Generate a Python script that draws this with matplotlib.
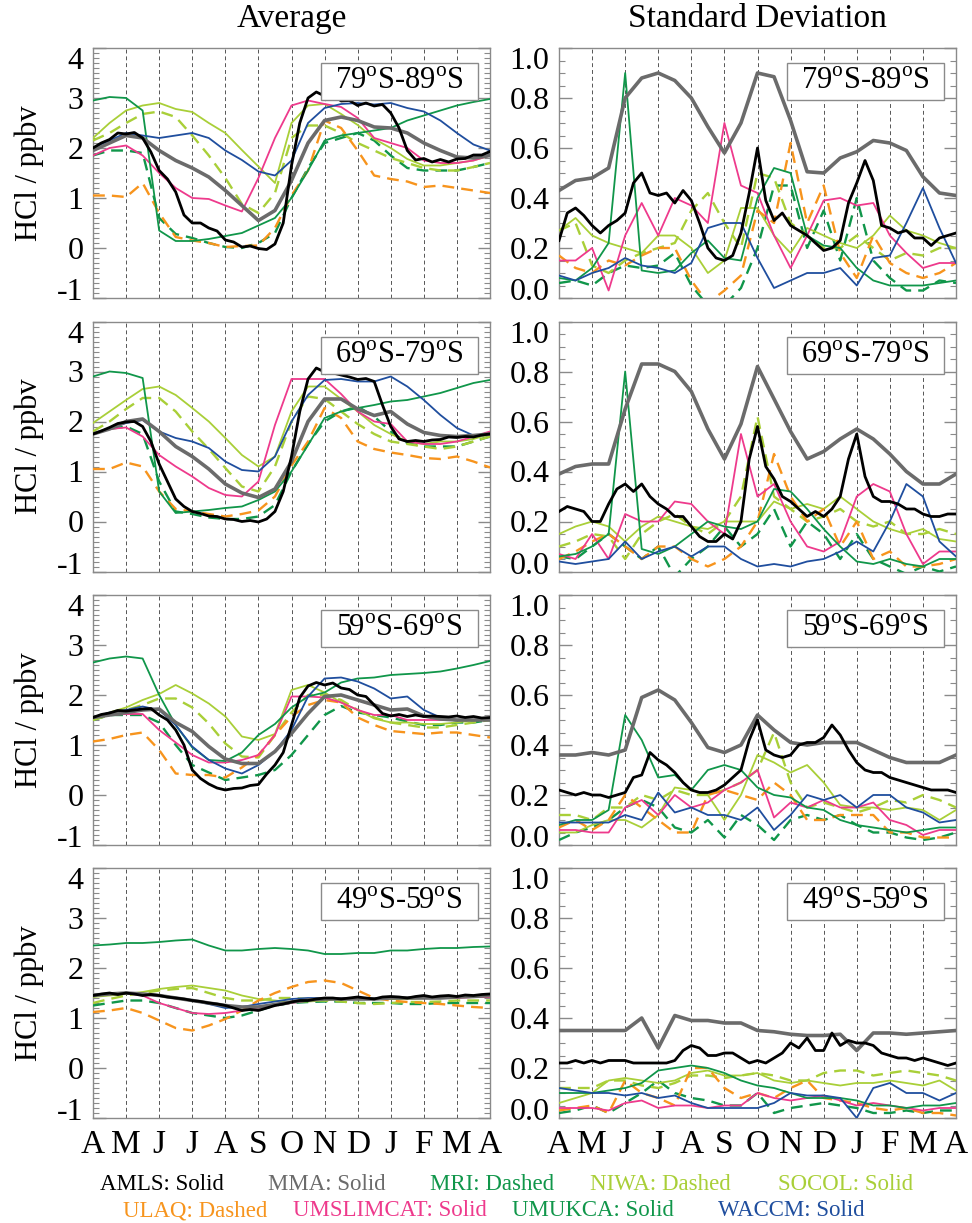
import numpy as np
import matplotlib
matplotlib.use("Agg")
import matplotlib.pyplot as plt
from matplotlib.patches import Rectangle
from matplotlib.ticker import MultipleLocator, FixedLocator, FixedFormatter
import matplotlib.transforms as mtransforms

plt.rcParams['font.family'] = ['Liberation Serif', 'DejaVu Serif']
plt.rcParams['mathtext.fontset'] = 'custom'
plt.rcParams['mathtext.rm'] = 'Liberation Serif'
plt.rcParams['axes.unicode_minus'] = False

# ---------------- axes / labels ----------------
MONTH_LABELS = ['A', 'M', 'J', 'J', 'A', 'S', 'O', 'N', 'D', 'J', 'F', 'M', 'A']
REGION_LABELS = ['79$^{\\rm o}$S-89$^{\\rm o}$S', '69$^{\\rm o}$S-79$^{\\rm o}$S',
                 '59$^{\\rm o}$S-69$^{\\rm o}$S', '49$^{\\rm o}$S-59$^{\\rm o}$S']
AVG_TICKS = [-1, 0, 1, 2, 3, 4]
SD_TICKS = [0.0, 0.2, 0.4, 0.6, 0.8, 1.0]

# x positions (months after 1 April): models semi-monthly, AMLS quarter-monthly
X_MODEL = np.arange(25) * 0.5
X_AMLS = np.arange(49) * 0.25

# ---------------- 79S-89S : average ----------------
A1_AMLS = [2.0, 2.1, 2.17, 2.3, 2.28, 2.31, 2.2, 1.92, 1.55, 1.38, 1.12, 0.66, 0.5, 0.5, 0.4, 0.34,
           0.16, 0.12, 0.02, 0.04, -0.01, -0.03, 0.08, 0.5, 1.65, 2.5, 3.0, 3.12, 3.04, 3.07, 2.94, 2.95,
           2.85, 2.9, 2.84, 2.87, 2.7, 2.4, 1.95, 1.76, 1.79, 1.72, 1.77, 1.72, 1.78, 1.79, 1.86, 1.86, 1.93]
A1_MMA = [1.95, 2.1, 2.25, 2.2, 1.95, 1.75, 1.6, 1.42, 1.15, 0.85, 0.55, 0.75, 1.35, 2.1, 2.55, 2.62,
          2.55, 2.42, 2.4, 2.3, 2.1, 1.95, 1.82, 1.8, 1.85]
A1_MRI = [1.85, 1.95, 1.95, 1.9, 0.6, 0.28, 0.2, 0.1, 0.02, 0.0, 0.1, 0.3, 1.0, 1.6, 2.1, 2.2,
          2.3, 2.15, 1.85, 1.6, 1.55, 1.55, 1.55, 1.62, 1.7]
A1_NIWA = [2.15, 2.3, 2.5, 2.68, 2.73, 2.62, 2.25, 1.85, 1.4, 0.88, 0.7, 1.1, 2.2, 2.45, 2.45, 2.3,
           2.1, 1.95, 1.8, 1.7, 1.6, 1.55, 1.55, 1.62, 1.7]
A1_SOCOL = [2.2, 2.5, 2.75, 2.85, 2.9, 2.78, 2.72, 2.5, 2.3, 1.96, 1.63, 1.3, 2.5, 2.85, 2.88, 2.68,
            2.46, 2.18, 2.0, 1.78, 1.65, 1.65, 1.7, 1.75, 1.85]
A1_ULAQ = [1.05, 1.05, 1.02, 1.3, 0.7, 0.22, 0.15, 0.1, 0.02, 0.04, 0.05, 0.4, 1.05, 1.55, 2.55, 2.4,
           1.95, 1.45, 1.38, 1.33, 1.22, 1.25, 1.2, 1.15, 1.1]
A1_UMSLIMCAT = [1.85, 2.0, 2.05, 1.85, 1.5, 1.2, 1.0, 0.98, 0.85, 0.73, 1.4, 2.2, 2.85, 2.95, 2.88, 2.82,
                2.6, 2.2, 2.1, 2.0, 1.75, 1.7, 1.7, 1.75, 1.85]
A1_UMUKCA = [2.95, 3.02, 3.0, 2.75, 0.35, 0.14, 0.14, 0.18, 0.24, 0.3, 0.45, 0.6, 1.0, 1.55, 2.15, 2.25,
             2.3, 2.35, 2.4, 2.55, 2.65, 2.75, 2.85, 2.92, 2.98]
A1_WACCM = [2.0, 2.15, 2.3, 2.25, 2.2, 2.25, 2.3, 2.2, 1.95, 1.76, 1.53, 1.45, 1.75, 2.5, 2.8, 2.88,
            2.9, 2.87, 2.9, 2.8, 2.73, 2.55, 2.3, 2.07, 1.95]

# ---------------- 79S-89S : standard deviation ----------------
S1_AMLS = [0.23, 0.34, 0.36, 0.33, 0.29, 0.26, 0.29, 0.31, 0.34, 0.46, 0.5, 0.42, 0.41, 0.42, 0.38, 0.43,
           0.39, 0.3, 0.2, 0.16, 0.15, 0.17, 0.26, 0.42, 0.6, 0.39, 0.31, 0.34, 0.29, 0.27, 0.25, 0.22,
           0.19, 0.2, 0.23, 0.38, 0.46, 0.55, 0.47, 0.29, 0.28, 0.26, 0.27, 0.24, 0.24, 0.21, 0.24, 0.25, 0.26]
S1_MMA = [0.43, 0.47, 0.48, 0.52, 0.8, 0.88, 0.9, 0.87, 0.8, 0.685, 0.58, 0.7, 0.9, 0.885, 0.71, 0.505,
          0.5, 0.56, 0.585, 0.63, 0.62, 0.59, 0.485, 0.42, 0.41]
S1_MRI = [0.06, 0.07, 0.05, 0.1, 0.13, 0.12, 0.13, 0.18, 0.05, -0.03, -0.03, 0.04, 0.2, 0.45, 0.45, 0.2,
          0.35, 0.15, 0.4, 0.15, 0.08, 0.03, 0.03, 0.07, 0.06]
S1_NIWA = [0.27, 0.3, 0.13, 0.1, 0.15, 0.18, 0.2, 0.22, 0.35, 0.42, 0.3, 0.2, 0.5, 0.48, 0.3, 0.25,
           0.2, 0.2, 0.25, 0.2, 0.15, 0.18, 0.17, 0.2, 0.2]
S1_SOCOL = [0.27, 0.32, 0.25, 0.22, 0.2, 0.18, 0.25, 0.25, 0.2, 0.1, 0.15, 0.36, 0.36, 0.25, 0.18, 0.28,
            0.25, 0.22, 0.2, 0.25, 0.33, 0.27, 0.25, 0.22, 0.2]
S1_ULAQ = [0.17, 0.12, 0.1, 0.15, 0.13, 0.17, 0.2, 0.2, 0.07, -0.02, 0.03, 0.09, 0.35, 0.3, 0.62, 0.3,
           0.45, 0.18, 0.08, 0.25, 0.14, 0.1, 0.08, 0.1, 0.14]
S1_UMSLIMCAT = [0.15, 0.15, 0.2, 0.03, 0.25, 0.38, 0.25, 0.4, 0.37, 0.3, 0.7, 0.45, 0.42, 0.25, 0.12, 0.25,
                0.39, 0.4, 0.37, 0.38, 0.25, 0.18, 0.12, 0.14, 0.14]
S1_UMUKCA = [0.08, 0.07, 0.12, 0.22, 0.9, 0.11, 0.1, 0.11, 0.18, 0.23, 0.16, 0.15, 0.4, 0.52, 0.5, 0.25,
             0.21, 0.2, 0.12, 0.07, 0.05, 0.05, 0.05, 0.06, 0.07]
S1_WACCM = [0.09, 0.07, 0.1, 0.12, 0.16, 0.13, 0.12, 0.1, 0.14, 0.28, 0.3, 0.3, 0.16, 0.04, 0.07, 0.1,
            0.1, 0.12, 0.05, 0.16, 0.17, 0.3, 0.44, 0.28, 0.14]

# ---------------- 69S-79S : average ----------------
A2_AMLS = [1.75, 1.81, 1.88, 1.96, 1.99, 2.0, 1.9, 1.6, 1.15, 0.8, 0.45, 0.3, 0.2, 0.16, 0.11, 0.1,
           0.05, 0.04, 0.0, 0.02, -0.01, 0.05, 0.2, 0.6, 1.3, 2.2, 2.85, 3.07, 2.99, 2.97, 2.93, 2.89,
           2.84, 2.86, 2.8, 2.33, 1.9, 1.65, 1.6, 1.62, 1.6, 1.63, 1.64, 1.69, 1.68, 1.7, 1.69, 1.73, 1.75]
A2_MMA = [1.75, 1.85, 2.0, 2.05, 1.8, 1.5, 1.3, 1.05, 0.75, 0.57, 0.48, 0.65, 1.2, 2.0, 2.45, 2.45,
          2.25, 2.12, 2.2, 1.95, 1.78, 1.72, 1.7, 1.72, 1.75]
A2_MRI = [1.75, 1.85, 1.9, 1.75, 0.8, 0.2, 0.15, 0.08, 0.05, 0.05, 0.1, 0.33, 1.0, 1.55, 2.0, 2.2,
          2.3, 2.1, 1.8, 1.57, 1.5, 1.5, 1.5, 1.6, 1.7]
A2_NIWA = [1.8, 2.0, 2.25, 2.47, 2.47, 2.2, 1.8, 1.45, 1.07, 0.7, 0.6, 1.1, 2.0, 2.5, 2.45, 2.2,
           1.95, 1.75, 1.6, 1.55, 1.5, 1.45, 1.5, 1.6, 1.7]
A2_SOCOL = [1.97, 2.2, 2.43, 2.65, 2.7, 2.53, 2.27, 2.0, 1.67, 1.33, 1.1, 1.3, 2.2, 2.7, 2.7, 2.45,
            2.2, 1.93, 1.75, 1.6, 1.55, 1.6, 1.6, 1.65, 1.75]
A2_ULAQ = [1.05, 1.05, 1.18, 1.1, 0.6, 0.25, 0.2, 0.15, 0.1, 0.15, 0.22, 0.5, 1.12, 1.6, 2.27, 2.07,
           1.6, 1.45, 1.38, 1.33, 1.27, 1.25, 1.3, 1.2, 1.08]
A2_UMSLIMCAT = [1.75, 1.85, 1.88, 1.7, 1.33, 1.1, 0.9, 0.67, 0.53, 0.5, 0.8, 1.93, 2.85, 2.85, 2.85, 2.55,
                2.2, 2.0, 1.95, 1.6, 1.55, 1.55, 1.6, 1.7, 1.8]
A2_UMUKCA = [2.9, 3.0, 2.97, 2.87, 0.6, 0.17, 0.2, 0.23, 0.27, 0.3, 0.43, 0.6, 1.0, 1.53, 2.07, 2.2,
             2.27, 2.33, 2.4, 2.43, 2.5, 2.57, 2.67, 2.77, 2.83]
A2_WACCM = [1.75, 1.85, 1.97, 2.03, 1.8, 1.67, 1.6, 1.47, 1.2, 1.03, 1.0, 1.3, 2.0, 2.53, 2.83, 2.85,
            2.8, 2.8, 2.9, 2.7, 2.43, 2.13, 1.87, 1.72, 1.75]

# ---------------- 69S-79S : standard deviation ----------------
S2_AMLS = [0.24, 0.26, 0.25, 0.24, 0.2, 0.2, 0.27, 0.33, 0.35, 0.32, 0.35, 0.3, 0.27, 0.25, 0.22, 0.22,
           0.18, 0.14, 0.12, 0.12, 0.15, 0.13, 0.2, 0.45, 0.58, 0.42, 0.37, 0.3, 0.28, 0.25, 0.22, 0.24,
           0.22, 0.25, 0.3, 0.45, 0.55, 0.38, 0.3, 0.28, 0.28, 0.27, 0.25, 0.25, 0.23, 0.22, 0.22, 0.23, 0.23]
S2_MMA = [0.39, 0.42, 0.43, 0.43, 0.65, 0.83, 0.83, 0.8, 0.72, 0.57, 0.45, 0.59, 0.82, 0.69, 0.56, 0.45,
          0.48, 0.53, 0.57, 0.53, 0.47, 0.4, 0.35, 0.35, 0.39]
S2_MRI = [0.06, 0.05, 0.1, 0.15, 0.1, 0.05, 0.1, -0.02, 0.05, 0.1, 0.18, 0.1, 0.15, 0.25, 0.1, 0.2,
          0.15, 0.05, 0.15, 0.05, 0.02, -0.01, 0.02, 0.0, 0.02]
S2_NIWA = [0.1, 0.12, 0.15, 0.14, 0.05, 0.15, 0.2, 0.23, 0.18, 0.15, 0.2, 0.3, 0.62, 0.3, 0.25, 0.2,
           0.22, 0.25, 0.2, 0.18, 0.2, 0.15, 0.15, 0.17, 0.15]
S2_SOCOL = [0.15, 0.18, 0.2, 0.18, 0.12, 0.18, 0.22, 0.2, 0.18, 0.17, 0.2, 0.2, 0.2, 0.28, 0.25, 0.27,
            0.25, 0.3, 0.25, 0.2, 0.17, 0.15, 0.17, 0.13, 0.12]
S2_ULAQ = [0.05, 0.08, 0.12, 0.15, 0.1, 0.05, 0.1, 0.1, 0.05, 0.02, 0.05, 0.1, 0.2, 0.47, 0.3, 0.2,
           0.25, 0.1, 0.2, 0.05, 0.08, 0.02, 0.02, 0.03, 0.05]
S2_UMSLIMCAT = [0.07, 0.05, 0.15, 0.05, 0.23, 0.2, 0.2, 0.28, 0.27, 0.2, 0.15, 0.55, 0.3, 0.35, 0.2, 0.1,
                0.08, 0.12, 0.3, 0.35, 0.32, 0.15, 0.03, 0.08, 0.08]
S2_UMUKCA = [0.06, 0.07, 0.1, 0.15, 0.8, 0.09, 0.07, 0.1, 0.15, 0.2, 0.18, 0.17, 0.2, 0.33, 0.32, 0.25,
             0.17, 0.1, 0.04, 0.03, 0.05, 0.03, 0.02, 0.05, 0.05]
S2_WACCM = [0.04, 0.03, 0.04, 0.05, 0.12, 0.05, 0.08, 0.1, 0.06, 0.1, 0.1, 0.05, 0.02, 0.03, 0.02, 0.04,
            0.05, 0.08, 0.12, 0.08, 0.2, 0.35, 0.3, 0.12, 0.06]

# ---------------- 59S-69S : average ----------------
A3_AMLS = [1.55, 1.61, 1.64, 1.69, 1.68, 1.7, 1.72, 1.73, 1.6, 1.5, 1.3, 1.0, 0.5, 0.33, 0.22, 0.14,
           0.1, 0.13, 0.14, 0.19, 0.21, 0.42, 0.6, 0.85, 1.4, 1.95, 2.18, 2.25, 2.2, 2.24, 2.14, 2.11,
           2.0, 1.97, 1.8, 1.63, 1.58, 1.61, 1.57, 1.6, 1.57, 1.58, 1.57, 1.56, 1.58, 1.55, 1.57, 1.54, 1.55]
A3_MMA = [1.55, 1.6, 1.65, 1.7, 1.72, 1.45, 1.27, 0.97, 0.72, 0.63, 0.63, 0.87, 1.23, 1.63, 1.97, 2.0,
          1.9, 1.8, 1.7, 1.72, 1.58, 1.52, 1.5, 1.5, 1.5]
A3_MRI = [1.5, 1.6, 1.6, 1.6, 1.45, 1.0, 0.6, 0.45, 0.3, 0.35, 0.4, 0.5, 0.8, 1.2, 1.6, 1.78,
          1.65, 1.6, 1.55, 1.47, 1.4, 1.4, 1.45, 1.45, 1.5]
A3_NIWA = [1.5, 1.6, 1.7, 1.8, 1.93, 1.93, 1.75, 1.43, 1.03, 0.77, 0.75, 1.2, 1.65, 2.0, 2.0, 1.9,
           1.7, 1.55, 1.45, 1.4, 1.35, 1.35, 1.4, 1.45, 1.5]
A3_SOCOL = [1.5, 1.65, 1.75, 1.9, 2.02, 2.2, 2.03, 1.83, 1.57, 1.17, 1.1, 1.22, 2.1, 2.2, 2.05, 1.85,
            1.7, 1.53, 1.45, 1.45, 1.42, 1.42, 1.45, 1.5, 1.5]
A3_ULAQ = [1.07, 1.12, 1.2, 1.25, 0.9, 0.43, 0.4, 0.4, 0.35, 0.55, 0.8, 1.2, 1.57, 1.8, 1.9, 1.85,
           1.55, 1.4, 1.28, 1.25, 1.22, 1.25, 1.25, 1.2, 1.15]
A3_UMSLIMCAT = [1.55, 1.6, 1.62, 1.62, 1.3, 1.05, 0.8, 0.65, 0.65, 0.7, 0.8, 1.2, 1.97, 1.97, 1.95, 1.85,
                1.7, 1.6, 1.6, 1.5, 1.5, 1.5, 1.5, 1.5, 1.5]
A3_UMUKCA = [2.65, 2.73, 2.77, 2.73, 2.0, 1.4, 0.95, 0.7, 0.68, 0.85, 1.2, 1.42, 1.75, 1.97, 2.05, 2.25,
             2.33, 2.35, 2.4, 2.42, 2.44, 2.47, 2.53, 2.6, 2.68]
A3_WACCM = [1.55, 1.65, 1.7, 1.77, 1.7, 1.4, 0.97, 0.7, 0.53, 0.43, 0.6, 0.87, 1.3, 1.97, 2.33, 2.35,
            2.27, 2.13, 1.93, 1.97, 1.7, 1.55, 1.5, 1.5, 1.5]

# ---------------- 59S-69S : standard deviation ----------------
S3_AMLS = [0.22, 0.21, 0.2, 0.21, 0.2, 0.2, 0.19, 0.2, 0.21, 0.27, 0.28, 0.37, 0.34, 0.32, 0.29, 0.25,
           0.22, 0.21, 0.21, 0.22, 0.24, 0.27, 0.3, 0.42, 0.5, 0.38, 0.36, 0.35, 0.36, 0.4, 0.41, 0.41,
           0.43, 0.48, 0.44, 0.38, 0.33, 0.3, 0.29, 0.29, 0.27, 0.26, 0.25, 0.24, 0.23, 0.22, 0.22, 0.22, 0.21]
S3_MMA = [0.36, 0.36, 0.37, 0.36, 0.38, 0.59, 0.62, 0.58, 0.49, 0.39, 0.37, 0.4, 0.52, 0.46, 0.41, 0.4,
          0.41, 0.41, 0.41, 0.38, 0.35, 0.33, 0.33, 0.33, 0.36]
S3_MRI = [0.02, 0.05, 0.07, 0.1, 0.15, 0.18, 0.15, 0.07, 0.05, 0.1, 0.03, 0.12, 0.08, 0.02, 0.1, 0.12,
          0.1, 0.12, 0.08, 0.05, 0.05, 0.03, 0.02, 0.03, 0.05]
S3_NIWA = [0.12, 0.12, 0.1, 0.15, 0.15, 0.2, 0.18, 0.22, 0.2, 0.2, 0.22, 0.25, 0.3, 0.45, 0.25, 0.15,
           0.17, 0.15, 0.13, 0.15, 0.18, 0.17, 0.2, 0.18, 0.15]
S3_SOCOL = [0.05, 0.05, 0.08, 0.1, 0.1, 0.07, 0.12, 0.23, 0.22, 0.2, 0.1, 0.2, 0.36, 0.33, 0.29, 0.32,
            0.25, 0.16, 0.15, 0.15, 0.14, 0.15, 0.14, 0.1, 0.14]
S3_ULAQ = [0.07, 0.1, 0.06, 0.1, 0.2, 0.15, 0.1, 0.05, 0.05, 0.2, 0.22, 0.2, 0.18, 0.25, 0.2, 0.1,
           0.1, 0.12, 0.12, 0.12, 0.05, 0.05, 0.03, 0.03, 0.03]
S3_UMSLIMCAT = [0.06, 0.06, 0.05, 0.05, 0.15, 0.18, 0.12, 0.2, 0.15, 0.17, 0.22, 0.25, 0.3, 0.11, 0.17, 0.15,
                0.18, 0.15, 0.15, 0.17, 0.1, 0.08, 0.04, 0.06, 0.06]
S3_UMUKCA = [0.08, 0.1, 0.1, 0.14, 0.52, 0.42, 0.27, 0.28, 0.22, 0.3, 0.32, 0.3, 0.23, 0.2, 0.19, 0.15,
             0.14, 0.1, 0.08, 0.07, 0.06, 0.05, 0.06, 0.07, 0.07]
S3_WACCM = [0.09, 0.09, 0.09, 0.09, 0.12, 0.1, 0.21, 0.13, 0.15, 0.12, 0.12, 0.1, 0.15, 0.06, 0.12, 0.2,
            0.18, 0.2, 0.15, 0.2, 0.2, 0.15, 0.13, 0.09, 0.1]

# ---------------- 49S-59S : average ----------------
A4_AMLS = [1.45, 1.48, 1.5, 1.47, 1.5, 1.48, 1.45, 1.47, 1.45, 1.42, 1.4, 1.38, 1.35, 1.33, 1.3, 1.28,
           1.25, 1.2, 1.15, 1.17, 1.15, 1.2, 1.25, 1.28, 1.32, 1.35, 1.35, 1.38, 1.4, 1.4, 1.38, 1.4,
           1.42, 1.4, 1.38, 1.42, 1.43, 1.42, 1.4, 1.43, 1.45, 1.42, 1.44, 1.45, 1.43, 1.46, 1.45, 1.47, 1.48]
A4_MMA = [1.45, 1.48, 1.5, 1.48, 1.45, 1.4, 1.35, 1.3, 1.25, 1.22, 1.22, 1.27, 1.32, 1.36, 1.38, 1.38,
          1.38, 1.38, 1.4, 1.4, 1.4, 1.4, 1.42, 1.43, 1.45]
A4_MRI = [1.25, 1.3, 1.35, 1.35, 1.3, 1.2, 1.1, 1.05, 1.0, 1.05, 1.15, 1.25, 1.3, 1.32, 1.33, 1.33,
          1.3, 1.3, 1.3, 1.28, 1.28, 1.3, 1.3, 1.3, 1.3]
A4_NIWA = [1.3, 1.38, 1.45, 1.5, 1.55, 1.58, 1.6, 1.5, 1.4, 1.35, 1.35, 1.4, 1.4, 1.38, 1.35, 1.33,
           1.3, 1.28, 1.3, 1.32, 1.32, 1.33, 1.35, 1.35, 1.35]
A4_SOCOL = [1.42, 1.45, 1.48, 1.52, 1.58, 1.62, 1.65, 1.6, 1.55, 1.45, 1.38, 1.35, 1.32, 1.33, 1.35, 1.38,
            1.4, 1.4, 1.38, 1.38, 1.4, 1.4, 1.42, 1.42, 1.43]
A4_ULAQ = [1.12, 1.15, 1.2, 1.1, 0.95, 0.8, 0.75, 0.85, 0.98, 1.15, 1.35, 1.5, 1.62, 1.72, 1.75, 1.7,
           1.55, 1.4, 1.35, 1.32, 1.3, 1.28, 1.25, 1.22, 1.2]
A4_UMSLIMCAT = [1.45, 1.48, 1.5, 1.45, 1.3, 1.2, 1.1, 1.08, 1.1, 1.15, 1.2, 1.25, 1.3, 1.35, 1.4, 1.4,
                1.38, 1.38, 1.4, 1.4, 1.4, 1.4, 1.4, 1.42, 1.42]
A4_UMUKCA = [2.45, 2.47, 2.5, 2.5, 2.52, 2.55, 2.57, 2.45, 2.35, 2.35, 2.38, 2.4, 2.38, 2.35, 2.28, 2.28,
             2.3, 2.3, 2.35, 2.35, 2.38, 2.4, 2.4, 2.42, 2.43]
A4_WACCM = [1.45, 1.48, 1.5, 1.48, 1.45, 1.4, 1.35, 1.28, 1.2, 1.22, 1.28, 1.33, 1.38, 1.4, 1.4, 1.4,
            1.4, 1.4, 1.4, 1.4, 1.42, 1.42, 1.42, 1.43, 1.45]

# ---------------- 49S-59S : standard deviation ----------------
S4_AMLS = [0.22, 0.22, 0.23, 0.22, 0.23, 0.22, 0.23, 0.23, 0.23, 0.22, 0.22, 0.22, 0.22, 0.22, 0.23, 0.27,
           0.29, 0.28, 0.25, 0.25, 0.26, 0.26, 0.24, 0.22, 0.23, 0.22, 0.24, 0.26, 0.3, 0.28, 0.32, 0.27,
           0.27, 0.34, 0.29, 0.31, 0.3, 0.3, 0.29, 0.26, 0.25, 0.24, 0.24, 0.23, 0.24, 0.23, 0.22, 0.21, 0.22]
S4_MMA = [0.35, 0.35, 0.35, 0.35, 0.35, 0.4, 0.28, 0.41, 0.39, 0.39, 0.38, 0.38, 0.35, 0.345, 0.335, 0.33,
          0.33, 0.335, 0.27, 0.34, 0.34, 0.335, 0.34, 0.345, 0.35]
S4_MRI = [0.02, 0.03, 0.05, 0.02, 0.06, 0.1, 0.15, 0.1, 0.08, 0.07, 0.05, 0.05, 0.1, 0.02, 0.04, 0.05,
          0.06, 0.05, 0.04, 0.02, 0.02, 0.03, 0.02, 0.03, 0.03]
S4_NIWA = [0.12, 0.12, 0.12, 0.15, 0.15, 0.13, 0.12, 0.14, 0.17, 0.17, 0.16, 0.17, 0.18, 0.17, 0.15, 0.15,
           0.18, 0.19, 0.19, 0.17, 0.18, 0.19, 0.18, 0.17, 0.15]
S4_SOCOL = [0.06, 0.08, 0.1, 0.15, 0.16, 0.15, 0.14, 0.15, 0.18, 0.19, 0.17, 0.17, 0.18, 0.15, 0.14, 0.15,
            0.14, 0.13, 0.14, 0.14, 0.15, 0.14, 0.13, 0.15, 0.11]
S4_ULAQ = [0.03, 0.04, 0.05, 0.02, 0.15, 0.1, 0.08, 0.05, 0.2, 0.2, 0.12, 0.08, 0.1, 0.08, 0.12, 0.15,
           0.08, 0.07, 0.06, 0.04, 0.03, 0.04, 0.02, 0.02, 0.01]
S4_UMSLIMCAT = [0.04, 0.04, 0.04, 0.03, 0.06, 0.07, 0.04, 0.05, 0.05, 0.04, 0.05, 0.05, 0.1, 0.08, 0.07, 0.08,
                0.09, 0.07, 0.05, 0.06, 0.05, 0.04, 0.03, 0.04, 0.04]
S4_UMUKCA = [0.1, 0.1, 0.1, 0.11, 0.12, 0.14, 0.19, 0.2, 0.21, 0.2, 0.18, 0.15, 0.13, 0.12, 0.1, 0.08,
             0.08, 0.08, 0.07, 0.05, 0.05, 0.04, 0.05, 0.05, 0.06]
S4_WACCM = [0.12, 0.11, 0.1, 0.1, 0.09, 0.1, 0.08, 0.09, 0.06, 0.04, 0.04, 0.04, 0.04, 0.06, 0.1, 0.09,
            0.09, 0.08, 0.0, 0.12, 0.14, 0.1, 0.1, 0.07, 0.1]

# ---------------- styles ----------------
MODEL_ORDER = ['MRI', 'NIWA', 'SOCOL', 'ULAQ', 'UMSLIMCAT', 'UMUKCA', 'WACCM', 'MMA', 'AMLS']
COLORS = {'AMLS': '#000000', 'MMA': '#6b6b6b', 'MRI': '#10964a', 'NIWA': '#a9cf38',
          'SOCOL': '#a9cf38', 'ULAQ': '#f7941d', 'UMSLIMCAT': '#ee3a8c', 'UMUKCA': '#10964a',
          'WACCM': '#1f4e9e'}
DASHED = {'MRI', 'NIWA', 'ULAQ'}


def panel(prefix, i):
    g = globals()
    return {m: g['%s%d_%s' % (prefix, i, m)] for m in MODEL_ORDER}


AVG = [panel('A', i) for i in range(1, 5)]
SD = [panel('S', i) for i in range(1, 5)]

W, H = 972.0, 1223.0
fig = plt.figure(figsize=(W / 100, H / 100), dpi=100)

LEFT_X, RIGHT_X, AX_W, AX_H = 93, 559, 397, 250
TOPS = [48, 321.5, 595, 868]
GRAY = '#8a8a8a'


def px_offset(dy_px):
    return mtransforms.ScaledTranslation(0, dy_px / 100.0, fig.dpi_scale_trans)


def style_axes(ax, ticks, minor, fmt, bottom):
    ax.set_xlim(0, 12)
    ax.set_ylim(ticks[0], ticks[-1])
    for s in ax.spines.values():
        s.set_color(GRAY)
        s.set_linewidth(1.0)
    ax.xaxis.set_major_locator(FixedLocator(list(range(13))))
    ax.grid(axis='x', which='major', color='#555555', linestyle=(0, (4, 3)), linewidth=0.7)
    ax.tick_params(axis='x', which='both', length=0, pad=8, labelsize=24)
    if bottom:
        ax.set_xticklabels(MONTH_LABELS)
    else:
        ax.set_xticklabels([])
    ax.yaxis.set_major_locator(FixedLocator(ticks))
    ax.yaxis.set_major_formatter(FixedFormatter([fmt % t for t in ticks]))
    ax.yaxis.set_minor_locator(MultipleLocator(minor))
    ax.tick_params(axis='y', which='both', direction='in', left=True, right=True,
                   color=GRAY, labelsize=23, pad=7)
    ax.tick_params(axis='y', which='major', length=9, width=1.0)
    ax.tick_params(axis='y', which='minor', length=4, width=0.8)
    labs = ax.get_yticklabels()
    labs[0].set_transform(labs[0].get_transform() + px_offset(9))
    labs[-1].set_transform(labs[-1].get_transform() + px_offset(-10))


def draw_series(ax, data):
    for m in MODEL_ORDER:
        y = np.asarray(data[m], dtype=float)
        x = X_AMLS if m == 'AMLS' else X_MODEL
        if m == 'AMLS':
            ax.plot(x, y, color=COLORS[m], lw=2.0, zorder=6, solid_joinstyle='round')
        elif m == 'MMA':
            ax.plot(x, y, color=COLORS[m], lw=2.6, zorder=5)
        elif m in DASHED:
            ax.plot(x, y, color=COLORS[m], lw=1.7, dashes=(5, 3), zorder=3)
        else:
            ax.plot(x, y, color=COLORS[m], lw=1.3, zorder=3)


def region_box(ax, label):
    ax.add_patch(Rectangle((0.574, 0.792), 0.395, 0.148, transform=ax.transAxes,
                           facecolor='white', edgecolor=GRAY, lw=1.0, zorder=8, clip_on=False))
    ax.text(0.7715, 0.866, label, transform=ax.transAxes, ha='center', va='center',
            fontsize=22, zorder=9)


for i in range(4):
    top = TOPS[i]
    bottom = (i == 3)
    axl = fig.add_axes([LEFT_X / W, 1 - (top + AX_H) / H, AX_W / W, AX_H / H])
    axr = fig.add_axes([RIGHT_X / W, 1 - (top + AX_H) / H, AX_W / W, AX_H / H])
    draw_series(axl, AVG[i])
    draw_series(axr, SD[i])
    style_axes(axl, AVG_TICKS, 0.1, '%d', bottom)
    style_axes(axr, SD_TICKS, 0.05, '%.1f', bottom)
    region_box(axl, REGION_LABELS[i])
    region_box(axr, REGION_LABELS[i])
    fig.text(29 / W, 1 - (top + AX_H / 2) / H, 'HCl / ppbv', rotation=90,
             ha='center', va='center', fontsize=22)

fig.text((LEFT_X + AX_W / 2) / W, 1 - 19 / H, 'Average', ha='center', va='center', fontsize=24)
fig.text((RIGHT_X + AX_W / 2) / W, 1 - 19 / H, 'Standard Deviation', ha='center', va='center',
         fontsize=24)

LEGEND_ROW1 = [('AMLS: Solid', 'AMLS', 100), ('MMA: Solid', 'MMA', 268), ('MRI: Dashed', 'MRI', 430),
               ('NIWA: Dashed', 'NIWA', 590), ('SOCOL: Solid', 'SOCOL', 778)]
LEGEND_ROW2 = [('ULAQ: Dashed', 'ULAQ', 123), ('UMSLIMCAT: Solid', 'UMSLIMCAT', 293),
               ('UMUKCA: Solid', 'UMUKCA', 512), ('WACCM: Solid', 'WACCM', 718)]
for row, ypx in ((LEGEND_ROW1, 1184), (LEGEND_ROW2, 1211)):
    for txt, m, xpx in row:
        fig.text(xpx / W, 1 - ypx / H, txt, color=COLORS[m], ha='left', va='center', fontsize=16.5)

fig.savefig('out.png', dpi=100)
